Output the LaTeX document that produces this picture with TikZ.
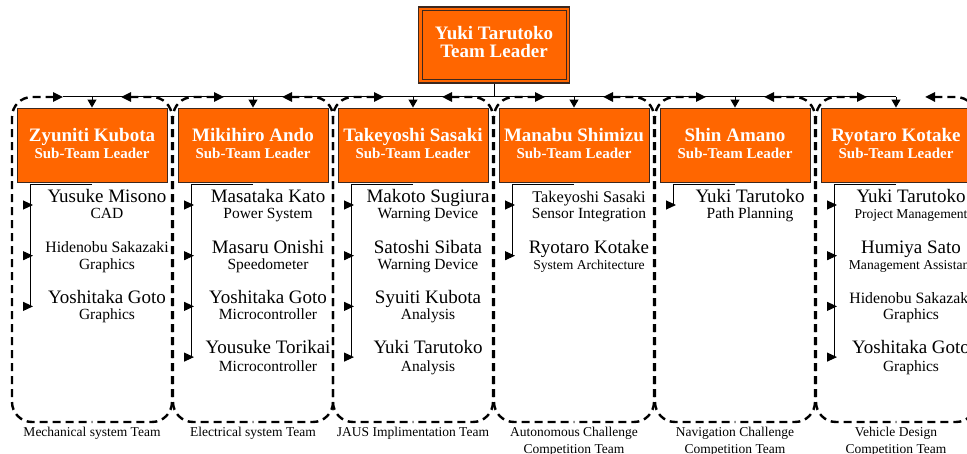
\documentclass[tikz,border=0pt]{standalone}
\usepackage{fontspec}
\setmainfont{Liberation Serif}
\usetikzlibrary{arrows.meta}
\definecolor{boxorange}{RGB}{255,102,0}
\definecolor{boxline}{RGB}{60,40,30}
\tikzset{
  subbox/.style={draw=boxline, line width=0.9pt, fill=boxorange, minimum width=150pt, minimum height=74pt, inner sep=0pt},
  boxtxt/.style={text=white, inner sep=0pt, anchor=base, font=\bfseries\fontsize{19}{19}\selectfont},
  boxsub/.style={text=white, inner sep=0pt, anchor=base, font=\bfseries\fontsize{15}{15}\selectfont},
  framehalf/.style={line width=2.4pt, dash pattern=on 8pt off 5pt, rounded corners=20pt, {Triangle[length=10pt,width=9pt]}-},
  nm/.style={inner sep=0pt, anchor=base, font=\fontsize{19}{19}\selectfont},
  nms/.style={inner sep=0pt, anchor=base, font=\fontsize{15.8}{16}\selectfont},
  rl/.style={inner sep=0pt, anchor=base, font=\fontsize{15.5}{16}\selectfont},
  rls/.style={inner sep=0pt, anchor=base, font=\fontsize{13.6}{14}\selectfont},
  lbl/.style={inner sep=0pt, anchor=base, font=\fontsize{13.5}{14}\selectfont},
  downarr/.style={line width=1pt, -{Triangle[length=8pt,width=9pt]}},
  memarr/.style={line width=1pt, -{Triangle[length=10pt,width=9pt]}},
  conn/.style={line width=1pt},
}
\begin{document}
\begin{tikzpicture}[x=1pt,y=-1pt]
\useasboundingbox (0,0) rectangle (967,454);
% top box
\node[draw=boxline, line width=1.3pt, fill=boxorange, minimum width=151pt, minimum height=76pt, inner sep=0pt] (top) at (494,45) {};
\node[draw=boxline, line width=0.8pt, minimum width=144pt, minimum height=69pt, inner sep=0pt] (topin) at (494,45) {};
\node[boxtxt] (topn) at (494,40) {Yuki Tarutoko};
\node[boxtxt] (topr) at (494,58) {Team Leader};
\coordinate (bus) at (494,97);
\draw[conn] (top.south) -- (bus);
\coordinate (busL) at (63,97);
\coordinate (busR) at (896,97);
\draw[conn] (busL) -- (busR);
% team frames
\foreach \c in {92,253,413,574,735,896} {
  \draw[framehalf] (\c-29,97) -- (\c-80,97) -- (\c-80,422) -- (\c,422);
  \draw[framehalf] (\c+29,97) -- (\c+80,97) -- (\c+80,422) -- (\c,422);
}
% sub-team boxes
\node[subbox] (b1) at (92,145) {};
\node[subbox] (b2) at (253,145) {};
\node[subbox] (b3) at (413,145) {};
\node[subbox] (b4) at (574,145) {};
\node[subbox] (b5) at (735,145) {};
\node[subbox] (b6) at (896,145) {};
\node[boxtxt] (b1n) at (92,142) {Zyuniti Kubota};
\node[boxsub] (b1s) at (92,159) {Sub-Team Leader};
\node[boxtxt] (b2n) at (253,142) {Mikihiro Ando};
\node[boxsub] (b2s) at (253,159) {Sub-Team Leader};
\node[boxtxt] (b3n) at (413,142) {Takeyoshi Sasaki};
\node[boxsub] (b3s) at (413,159) {Sub-Team Leader};
\node[boxtxt] (b4n) at (574,142) {Manabu Shimizu};
\node[boxsub] (b4s) at (574,159) {Sub-Team Leader};
\node[boxtxt] (b5n) at (735,142) {Shin Amano};
\node[boxsub] (b5s) at (735,159) {Sub-Team Leader};
\node[boxtxt] (b6n) at (896,142) {Ryotaro Kotake};
\node[boxsub] (b6s) at (896,159) {Sub-Team Leader};
% down arrows from bus
\foreach \i/\c in {1/92,2/253,3/413,4/574,5/735,6/896} {
  \draw[downarr] (\c,97) -- (b\i.north);
}
% members team 1
\node[nm] (m11) at (107,203) {Yusuke Misono};
\node[rl] (r11) at (107,219) {CAD};
\node[nms] (m12) at (107,253) {Hidenobu Sakazaki};
\node[rl] (r12) at (107,270) {Graphics};
\node[nm] (m13) at (107,304) {Yoshitaka Goto};
\node[rl] (r13) at (107,320) {Graphics};
% team 2
\node[nm] (m21) at (268,203) {Masataka Kato};
\node[rl] (r21) at (268,219) {Power System};
\node[nm] (m22) at (268,254) {Masaru Onishi};
\node[rl] (r22) at (268,270) {Speedometer};
\node[nm] (m23) at (268,304) {Yoshitaka Goto};
\node[rl] (r23) at (268,320) {Microcontroller};
\node[nm] (m24) at (268,354) {Yousuke Torikai};
\node[rl] (r24) at (268,371) {Microcontroller};
% team 3
\node[nm] (m31) at (428,203) {Makoto Sugiura};
\node[rl] (r31) at (428,219) {Warning Device};
\node[nm] (m32) at (428,254) {Satoshi Sibata};
\node[rl] (r32) at (428,270) {Warning Device};
\node[nm] (m33) at (428,304) {Syuiti Kubota};
\node[rl] (r33) at (428,320) {Analysis};
\node[nm] (m34) at (428,354) {Yuki Tarutoko};
\node[rl] (r34) at (428,371) {Analysis};
% team 4
\node[inner sep=0pt, anchor=base, font=\fontsize{16.3}{17}\selectfont] (m41) at (589,203) {Takeyoshi Sasaki};
\node[rl] (r41) at (589,219) {Sensor Integration};
\node[nm] (m42) at (589,254) {Ryotaro Kotake};
\node[rls] (r42) at (589,270) {System Architecture};
% team 5
\node[nm] (m51) at (750,203) {Yuki Tarutoko};
\node[rl] (r51) at (750,219) {Path Planning};
% team 6
\node[nm] (m61) at (911,203) {Yuki Tarutoko};
\node[rls] (r61) at (911,219) {Project Management};
\node[nm] (m62) at (911,254) {Humiya Sato};
\node[rls] (r62) at (911,270) {Management Assistant};
\node[nms] (m63) at (911,304) {Hidenobu Sakazaki};
\node[rl] (r63) at (911,320) {Graphics};
\node[nm] (m64) at (911,354) {Yoshitaka Goto};
\node[rl] (r64) at (911,371) {Graphics};
% member connectors
\foreach \i/\c/\n in {1/92/3,2/253/4,3/413/4,4/574/2,5/735/1,6/896/4} {
  \pgfmathsetmacro{\yl}{205+50.7*(\n-1)}
  \coordinate (v\i) at (\c-62,\yl);
  \draw[conn] ([yshift=-2pt]b\i.south) -| (v\i);
  \foreach \k in {1,...,\n} {
    \pgfmathsetmacro{\ya}{205+50.7*(\k-1)}
    \coordinate (a\i\k) at (\c-59,\ya);
    \draw[memarr] (\c-69,\ya) -- (a\i\k);
  }
}
% team labels
\node[lbl] (t1) at (92,436) {Mechanical system Team};
\node[lbl] (t2) at (253,436) {Electrical system Team};
\node[lbl] (t3) at (413,436) {JAUS Implimentation Team};
\node[lbl] (t4a) at (574,436) {Autonomous Challenge};
\node[lbl] (t4b) at (574,453) {Competition Team};
\node[lbl] (t5a) at (735,436) {Navigation Challenge};
\node[lbl] (t5b) at (735,453) {Competition Team};
\node[lbl] (t6a) at (896,436) {Vehicle Design};
\node[lbl] (t6b) at (896,453) {Competition Team};
\end{tikzpicture}
\end{document}
